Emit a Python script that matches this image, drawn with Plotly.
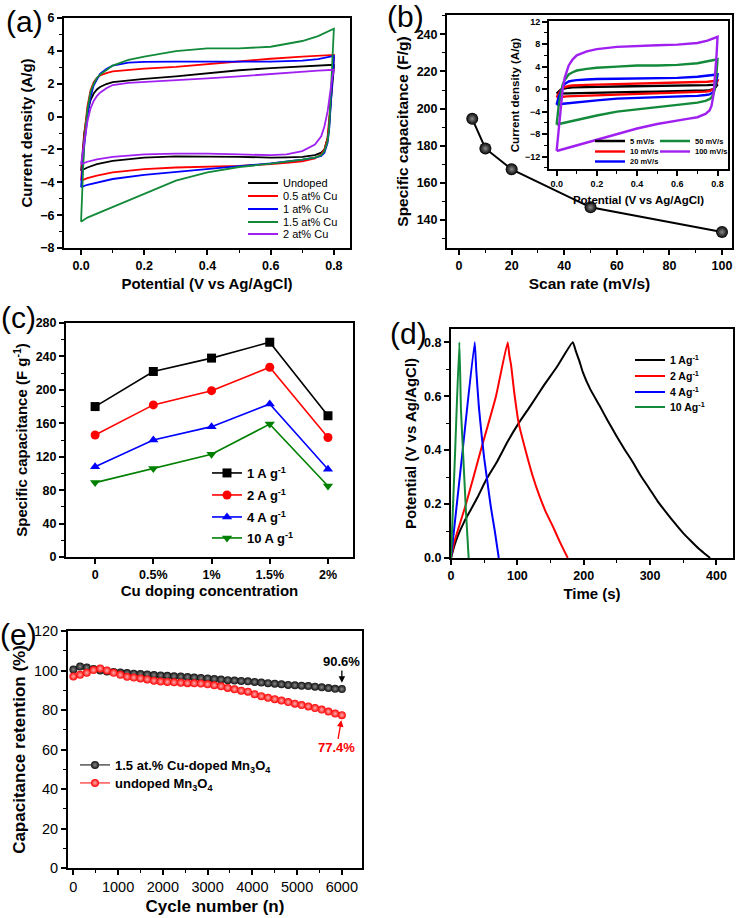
import plotly.graph_objects as go

W, H = 738, 918
FONT = "Liberation Sans, Arial, sans-serif"

# ---------------- (a) CV curves of doped samples ----------------
E_fwd = [0, 0.005, 0.01, 0.02, 0.03, 0.04, 0.05, 0.06, 0.08, 0.1, 0.15, 0.2, 0.3, 0.4, 0.5, 0.6, 0.7, 0.75, 0.8]
E_rev = [0.8, 0.795, 0.79, 0.785, 0.78, 0.77, 0.76, 0.74, 0.7, 0.65, 0.6, 0.5, 0.4, 0.3, 0.2, 0.1, 0.05, 0.02, 0.0]

a_names = ["Undoped", "0.5 at% Cu", "1 at% Cu", "1.5 at% Cu", "2 at% Cu"]
a_colors = ["#000000", "#FF0000", "#0000FF", "#128A3A", "#A020F0"]
undoped_fwd = [-3.3, -2.0, -1.0, 0.3, 1.0, 1.4, 1.65, 1.8, 1.98, 2.1, 2.2, 2.3, 2.45, 2.65, 2.82, 2.95, 3.05, 3.1, 3.15]
undoped_rev = [3.0, 2.0, 0.8, -0.5, -1.3, -2.0, -2.2, -2.35, -2.45, -2.48, -2.5, -2.45, -2.42, -2.42, -2.5, -2.7, -2.9, -3.1, -3.3]
cu05_fwd = [-3.9, -2.6, -1.2, 0.6, 1.6, 2.1, 2.35, 2.5, 2.65, 2.75, 2.85, 2.92, 3.02, 3.2, 3.37, 3.52, 3.65, 3.7, 3.75]
cu05_rev = [3.5, 2.5, 1.0, -0.5, -1.3, -2.0, -2.3, -2.55, -2.72, -2.82, -2.9, -3.0, -3.05, -3.1, -3.2, -3.4, -3.6, -3.75, -3.9]
cu1_fwd = [-4.3, -3.0, -1.8, 0.0, 1.2, 1.9, 2.3, 2.6, 2.9, 3.1, 3.28, 3.33, 3.35, 3.35, 3.35, 3.35, 3.4, 3.5, 3.7]
cu1_rev = [3.5, 2.2, 0.6, -0.8, -1.6, -2.2, -2.4, -2.5, -2.62, -2.75, -2.85, -3.02, -3.2, -3.35, -3.55, -3.8, -4.0, -4.15, -4.3]
cu15_fwd = [-6.4, -3.5, -1.5, 0.4, 1.5, 2.0, 2.35, 2.55, 2.85, 3.1, 3.45, 3.65, 3.98, 4.15, 4.15, 4.25, 4.6, 4.9, 5.35]
cu15_rev = [5.35, 3.0, 0.8, -0.7, -1.5, -2.1, -2.35, -2.5, -2.62, -2.75, -2.87, -3.07, -3.4, -3.9, -4.7, -5.5, -5.9, -6.15, -6.4]
cu2_fwd = [-2.9, -2.2, -1.5, -0.3, 0.5, 0.95, 1.25, 1.45, 1.72, 1.92, 2.05, 2.1, 2.2, 2.33, 2.45, 2.6, 2.75, 2.8, 2.85]
cu2_rev = [2.8, 2.4, 1.7, 0.9, 0.3, -0.6, -1.2, -1.7, -2.1, -2.3, -2.35, -2.3, -2.25, -2.25, -2.3, -2.45, -2.6, -2.75, -2.9]
a_fwd = [undoped_fwd, cu05_fwd, cu1_fwd, cu15_fwd, cu2_fwd]
a_rev = [undoped_rev, cu05_rev, cu1_rev, cu15_rev, cu2_rev]

# ---------------- (b) capacitance vs scan rate + inset CV ----------------
scan_rate = [5, 10, 20, 50, 100]
cap_scan = [194.5, 178.5, 167.3, 146.8, 133.5]

b_names = ["5 mV/s", "10 mV/s", "20 mV/s", "50 mV/s", "100 mV/s"]
b_colors = ["#000000", "#FF0000", "#0000FF", "#128A3A", "#A020F0"]
r5_fwd = [-0.8, -0.6, -0.4, -0.1, 0.05, 0.15, 0.2, 0.25, 0.3, 0.33, 0.37, 0.4, 0.45, 0.48, 0.52, 0.57, 0.65, 0.7, 0.8]
r5_rev = [0.8, 0.5, 0.3, 0.1, 0.0, -0.1, -0.2, -0.25, -0.3, -0.35, -0.38, -0.45, -0.5, -0.55, -0.6, -0.65, -0.7, -0.75, -0.8]
r10_fwd = [-1.5, -1.1, -0.8, -0.3, 0.2, 0.35, 0.5, 0.55, 0.65, 0.7, 0.75, 0.8, 0.88, 0.95, 1.0, 1.08, 1.2, 1.3, 1.5]
r10_rev = [1.5, 1.0, 0.5, 0.2, 0.0, -0.2, -0.35, -0.45, -0.5, -0.55, -0.6, -0.7, -0.8, -0.9, -1.0, -1.2, -1.3, -1.4, -1.5]
r20_fwd = [-2.8, -2.0, -1.4, -0.5, 0.4, 0.9, 1.2, 1.35, 1.5, 1.6, 1.7, 1.8, 1.85, 1.9, 1.95, 2.0, 2.2, 2.35, 2.6]
r20_rev = [2.6, 1.5, 0.5, 0.0, -0.5, -0.8, -0.95, -1.05, -1.2, -1.25, -1.3, -1.4, -1.55, -1.7, -2.0, -2.3, -2.5, -2.65, -2.8]
r50_fwd = [-6.3, -4.5, -3.0, -1.0, 0.8, 1.6, 2.2, 2.6, 3.0, 3.3, 3.6, 3.8, 4.0, 4.2, 4.2, 4.3, 4.6, 4.9, 5.3]
r50_rev = [5.3, 3.0, 1.0, -0.2, -0.8, -1.5, -1.8, -2.1, -2.4, -2.6, -2.8, -3.1, -3.5, -4.0, -4.7, -5.5, -5.9, -6.1, -6.3]
r100_fwd = [-11.0, -9.0, -6.5, -3.0, 0.0, 2.0, 3.3, 4.2, 5.3, 6.0, 6.7, 7.1, 7.5, 7.7, 7.8, 7.9, 8.2, 8.6, 9.3]
r100_rev = [9.3, 6.0, 3.0, 0.5, -1.0, -3.0, -3.8, -4.4, -5.0, -5.3, -5.6, -6.2, -7.0, -8.0, -9.0, -10.0, -10.5, -10.8, -11.0]
b_fwd = [r5_fwd, r10_fwd, r20_fwd, r50_fwd, r100_fwd]
b_rev = [r5_rev, r10_rev, r20_rev, r50_rev, r100_rev]

# ---------------- (c) capacitance vs Cu doping ----------------
doping = ["0", "0.5%", "1%", "1.5%", "2%"]
c_names = ["1 A g<sup>-1</sup>", "2 A g<sup>-1</sup>", "4 A g<sup>-1</sup>", "10 A g<sup>-1</sup>"]
c_colors = ["#000000", "#FF0000", "#0000FF", "#008000"]
c_symbols = ["square", "circle", "triangle-up", "triangle-down"]
cap_1A = [180, 222, 238, 257, 169]
cap_2A = [146, 182, 199, 227, 143]
cap_4A = [108, 140, 156, 183, 105]
cap_10A = [89, 106, 123, 159, 85]
c_vals = [cap_1A, cap_2A, cap_4A, cap_10A]

# ---------------- (d) GCD curves ----------------
d_names = ["1 Ag<sup>-1</sup>", "2 Ag<sup>-1</sup>", "4 Ag<sup>-1</sup>", "10 Ag<sup>-1</sup>"]
d_colors = ["#000000", "#FF0000", "#0000FF", "#128A3A"]
t_1A = [0, 5, 10, 20, 30, 40, 53, 70, 85, 102, 120, 140, 160, 183.5,
        188.4, 193.5, 198.5, 210, 223.6, 236, 248.7, 261, 273.9, 286, 299, 311, 324, 337, 349, 362, 374, 383, 390.5]
v_1A = [0, 0.045, 0.08, 0.135, 0.18, 0.225, 0.29, 0.36, 0.43, 0.5, 0.565, 0.64, 0.71, 0.8,
        0.765, 0.73, 0.69, 0.625, 0.566, 0.51, 0.455, 0.405, 0.356, 0.305, 0.257, 0.212, 0.17, 0.13, 0.095, 0.062, 0.033, 0.015, 0.0]
t_2A = [0, 5, 10, 22.6, 45, 67.8, 85.4, 88, 90.5, 95, 102, 113, 123, 133, 143, 153, 164, 176]
v_2A = [0, 0.06, 0.1, 0.2, 0.4, 0.6, 0.8, 0.75, 0.716, 0.62, 0.5, 0.393, 0.305, 0.232, 0.17, 0.12, 0.06, 0.0]
t_4A = [0, 17.6, 35.7, 38, 42, 46, 50, 55, 60, 66, 72]
v_4A = [0, 0.4, 0.8, 0.7, 0.56, 0.46, 0.37, 0.28, 0.19, 0.1, 0.0]
t_10A = [0, 6.3, 12.6, 15, 18.6, 22.6, 26.6]
v_10A = [0, 0.4, 0.8, 0.55, 0.37, 0.17, 0.0]
d_t = [t_1A, t_2A, t_4A, t_10A]
d_v = [v_1A, v_2A, v_4A, v_10A]

# ---------------- (e) cycling stability ----------------
cycles = [0, 150, 300, 450, 600, 750, 900, 1050, 1200, 1350, 1500, 1650, 1800, 1950, 2100,
          2250, 2400, 2550, 2700, 2850, 3000, 3150, 3300, 3450, 3600, 3750, 3900, 4050, 4200,
          4350, 4500, 4650, 4800, 4950, 5100, 5250, 5400, 5550, 5700, 5850, 6000]
ret_doped = [100.5, 102, 101.5, 100.8, 100, 99.5, 99.2, 99, 98.7, 98.4, 98.2, 98, 97.7, 97.5, 97.3,
             97.1, 96.9, 96.7, 96.4, 96.2, 96, 95.7, 95.4, 95.1, 94.9, 94.7, 94.5, 94.2, 93.9,
             93.6, 93.3, 93, 92.7, 92.5, 92.3, 92.1, 91.8, 91.5, 91.1, 90.7, 90.6]
ret_undoped = [97, 97.8, 98.8, 100.2, 101, 100, 98.8, 97.8, 96.8, 96.4, 96, 95.5, 94.8, 94.4, 94.2,
               94, 93.8, 93.6, 93.5, 93.4, 93, 92.5, 92, 91.2, 90.5, 89.8, 89.3, 88, 87,
               86.2, 85.5, 84.8, 84, 83.2, 82.5, 81.8, 81, 80.2, 79.2, 78.2, 77.4]
e_names = ["1.5 at.% Cu-doped Mn<sub>3</sub>O<sub>4</sub>", "undoped Mn<sub>3</sub>O<sub>4</sub>"]

fig = go.Figure()

# panel (a)
for i in range(5):
    fig.add_trace(go.Scatter(x=E_fwd + E_rev, y=a_fwd[i] + a_rev[i], mode="lines",
                             name=a_names[i], line=dict(color=a_colors[i], width=1.8),
                             xaxis="x", yaxis="y", legend="legend" if i == 0 else "legend%d" % (i + 1)))
# panel (b)
fig.add_trace(go.Scatter(x=scan_rate, y=cap_scan, mode="lines+markers", showlegend=False,
                         line=dict(color="black", width=2),
                         marker=dict(size=12, color="black", gradient=dict(type="radial", color="#8a8a8a")),
                         xaxis="x2", yaxis="y2"))
for i in range(5):
    fig.add_trace(go.Scatter(x=E_fwd + E_rev, y=b_fwd[i] + b_rev[i], mode="lines",
                             name=b_names[i], line=dict(color=b_colors[i], width=2.4),
                             xaxis="x3", yaxis="y3", legend="legend%d" % (6 + i)))
# panel (c)
for i in range(4):
    fig.add_trace(go.Scatter(x=doping, y=c_vals[i], mode="lines+markers", name=c_names[i],
                             line=dict(color=c_colors[i], width=1.6),
                             marker=dict(symbol=c_symbols[i], size=9, color=c_colors[i]),
                             xaxis="x4", yaxis="y4", legend="legend%d" % (11 + i)))
# panel (d)
for i in range(4):
    fig.add_trace(go.Scatter(x=d_t[i], y=d_v[i], mode="lines", name=d_names[i],
                             line=dict(color=d_colors[i], width=2, shape="spline", smoothing=0.4),
                             xaxis="x5", yaxis="y5", legend="legend%d" % (15 + i)))
# panel (e)
fig.add_trace(go.Scatter(x=cycles, y=ret_doped, mode="lines+markers", name=e_names[0],
                         line=dict(color="black", width=1),
                         marker=dict(size=8, color="#111111", gradient=dict(type="radial", color="#8a8a8a")),
                         xaxis="x6", yaxis="y6", legend="legend19"))
fig.add_trace(go.Scatter(x=cycles, y=ret_undoped, mode="lines+markers", name=e_names[1],
                         line=dict(color="red", width=1),
                         marker=dict(size=8, color="#FF0000", gradient=dict(type="radial", color="#FFB0B0")),
                         xaxis="x6", yaxis="y6", legend="legend20"))


def dom_x(l, r):
    return [l / W, r / W]


def dom_y(t, b):
    return [1 - b / H, 1 - t / H]


def axis(domain, rng, dtick, mdtick, tsize, title, tisize, anchor, fmt=None, standoff=6,
         tweight="bold", tiweight="bold", tick0=None, ctype=None):
    d = dict(domain=domain, range=rng, anchor=anchor, showline=True, mirror=True,
             linecolor="black", linewidth=2, ticks="outside", ticklen=5, tickwidth=1.5,
             tickcolor="black", showgrid=False, zeroline=False, automargin=False,
             tickfont=dict(family=FONT, size=tsize, color="black", weight=tweight),
             title=dict(text=title, standoff=standoff,
                        font=dict(family=FONT, size=tisize, color="black", weight=tiweight)))
    if ctype:
        d["type"] = ctype
    else:
        d["dtick"] = dtick
        if tick0 is not None:
            d["tick0"] = tick0
    if mdtick:
        d["minor"] = dict(dtick=mdtick, ticks="outside", ticklen=3, tickwidth=1.2, tickcolor="black")
    if fmt:
        d["tickformat"] = fmt
    return d


layout = dict(
    width=W, height=H, margin=dict(l=0, r=0, t=0, b=0, autoexpand=False),
    paper_bgcolor="white", plot_bgcolor="white",
    font=dict(family=FONT, color="black"),
    xaxis=axis(dom_x(64, 350), [-0.054, 0.851], 0.2, 0.1, 12.5, "Potential (V vs Ag/AgCl)", 15, "y", fmt=".1f", tick0=0),
    yaxis=axis(dom_y(18, 248), [-8, 6], 2, 1, 12.5, "Current density (A/g)", 15, "x", standoff=4),
    xaxis2=axis(dom_x(447, 732), [-4.6, 103.8], 20, 10, 12.5, "Scan rate (mV/s)", 15.5, "y2", tick0=0),
    yaxis2=axis(dom_y(15, 248), [124.9, 250.4], 20, 10, 12.5, "Specific capacitance (F/g)", 15.5, "x2", standoff=4),
    xaxis3=axis(dom_x(549, 728), [-0.038, 0.852], 0.2, 0.1, 9, "Potential (V vs Ag/AgCl)", 11.5, "y3", fmt=".1f", tick0=0, standoff=8),
    yaxis3=axis(dom_y(21, 169), [-14.2, 12.1], 4, 2, 9, "Current density (A/g)", 11.5, "x3", standoff=3),
    xaxis4=axis(dom_x(66, 353), [-0.5, 4.43], None, None, 12.5, "Cu doping concentration", 15, "y4", ctype="category", standoff=4),
    yaxis4=axis(dom_y(323, 557), [0, 280], 40, 20, 12.5, "Specific capacitance (F g<sup>-1</sup>)", 15, "x4", standoff=4),
    xaxis5=axis(dom_x(451, 733), [0, 425], 100, 50, 12.5, "Time (s)", 15, "y5", tick0=0),
    yaxis5=axis(dom_y(329, 558), [0, 0.849], 0.2, 0.1, 12.5, "Potential (V vs Ag/AgCl)", 15, "x5", fmt=".1f", tick0=0, standoff=4),
    xaxis6=axis(dom_x(68, 362), [-120, 6450], 1000, 500, 14.5, "Cycle number (n)", 17, "y6", tweight="normal", tick0=0),
    yaxis6=axis(dom_y(631, 868), [0, 120], 20, 10, 14.5, "Capacitance retention (%)", 17, "x6", tweight="normal", standoff=4),
)


def leg(text_px, y_px, size, bold):
    return dict(x=(text_px - 40) / W, y=1 - y_px / H, xanchor="left", yanchor="middle",
                bgcolor="rgba(0,0,0,0)", borderwidth=0, itemwidth=30, tracegroupgap=0,
                font=dict(family=FONT, size=size, color="black", weight="bold" if bold else "normal"))


# legend entries positioned individually to reproduce the tight spacing
a_rows = [183, 196, 209, 222, 234]
for i, yy in enumerate(a_rows):
    layout["legend" if i == 0 else "legend%d" % (i + 1)] = leg(283, yy, 11, False)
ins = [(630, 141), (630, 151.5), (630, 161.5), (695, 141), (695, 151.5)]
for i, (xx, yy) in enumerate(ins):
    layout["legend%d" % (6 + i)] = leg(xx, yy, 7.5, True)
c_rows = [473, 495, 517, 538]
for i, yy in enumerate(c_rows):
    layout["legend%d" % (11 + i)] = leg(247, yy, 13, True)
d_rows = [360, 376, 392, 407]
for i, yy in enumerate(d_rows):
    layout["legend%d" % (15 + i)] = leg(670, yy, 10.5, True)
layout["legend19"] = leg(115, 765, 13, True)
layout["legend20"] = leg(115, 783, 13, True)

annotations = []
for lab, xx, yy in [("(a)", 25, 22), ("(b)", 405, 17), ("(c)", 18, 317), ("(d)", 408, 333), ("(e)", 18, 634)]:
    annotations.append(dict(text=lab, x=xx / W, y=1 - yy / H, xref="paper", yref="paper",
                            xanchor="center", yanchor="middle", showarrow=False,
                            font=dict(family=FONT, size=30, color="black")))
annotations.append(dict(text="90.6%", x=6000, y=91.8, xref="x6", yref="y6", ax=6000, ay=104.5,
                        axref="x6", ayref="y6", showarrow=True, arrowhead=2, arrowsize=1, arrowwidth=1.3,
                        arrowcolor="black", standoff=4,
                        font=dict(family=FONT, size=13, color="black", weight="bold")))
annotations.append(dict(text="77.4%", x=6000, y=76.3, xref="x6", yref="y6", ax=5880, ay=60.8,
                        axref="x6", ayref="y6", showarrow=True, arrowhead=2, arrowsize=1, arrowwidth=1.3,
                        arrowcolor="red", standoff=3,
                        font=dict(family=FONT, size=13, color="red", weight="bold")))
layout["annotations"] = annotations

fig.update_layout(**layout)
fig.write_html("out.html", config={"displayModeBar": False},
               post_script="document.body.style.margin='0px';")
